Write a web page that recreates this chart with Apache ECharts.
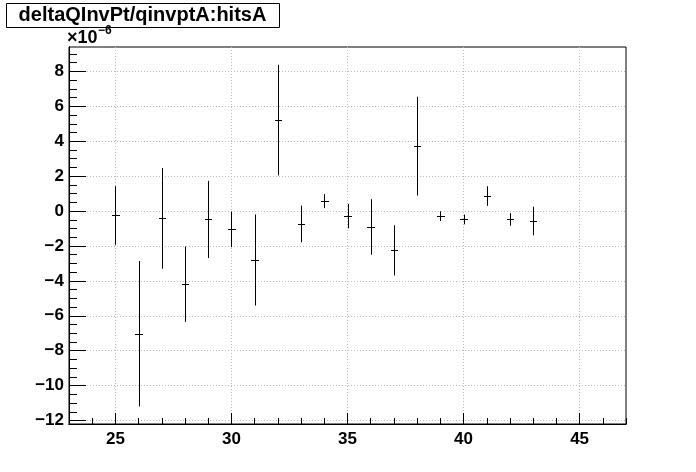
<!DOCTYPE html>
<html>
<head>
<meta charset="utf-8">
<script src="https://cdn.jsdelivr.net/npm/echarts@6/dist/echarts.min.js"></script>
<style>
html,body{margin:0;padding:0;background:#fff;}
#chart{width:696px;height:472px;}
</style>
</head>
<body>
<div id="chart"></div>
<script>
// ---- data (values in units of 1e-6) ----
var hitsA = [25, 26, 27, 28, 29, 30, 31, 32, 33, 34, 35, 36, 37, 38, 39, 40, 41, 42, 43];
var deltaQInvPt = [-0.25, -7.03, -0.42, -4.19, -0.48, -1.05, -2.80, 5.21, -0.74, 0.57, -0.29, -0.91, -2.25, 3.72, -0.29, -0.48, 0.86, -0.48, -0.57];
var errors = [1.68, 4.17, 2.89, 2.16, 2.21, 1.02, 2.61, 3.17, 1.05, 0.40, 0.70, 1.59, 1.44, 2.83, 0.28, 0.28, 0.56, 0.36, 0.82];

var xMajorTicks = [25, 30, 35, 40, 45];
var yMajorTicks = [-12, -10, -8, -6, -4, -2, 0, 2, 4, 6, 8];
var titleText = 'deltaQInvPt/qinvptA:hitsA';

// axis ranges
var X_MIN = 23, X_MAX = 47;
var Y_MIN = -12.2, Y_MAX = 9.4;

// minor ticks
var xMinorTicks = [];
for (var i = 23; i <= 47; i += 1) xMinorTicks.push(i);
var yMinorTicks = [];
for (var j = -24; j <= 18; j += 1) yMinorTicks.push(j / 2);

var HALF_W = 0.14; // half-width of horizontal marker in x units

var FONT = '"Liberation Sans", Arial, Helvetica, sans-serif';

var data = hitsA.map(function (h, k) { return [h, deltaQInvPt[k], errors[k]]; });

function fmtY(v) {
  return v < 0 ? '\u2212' + Math.abs(v) : String(v);
}

var chart = echarts.init(document.getElementById('chart'), null, {renderer: 'canvas'});

var gridDef = {left: 69, right: 70, top: 47, bottom: 48, show: true, borderColor: '#000', borderWidth: 1, backgroundColor: 'transparent', containLabel: false, outerBoundsMode: 'none'};

chart.setOption({
  backgroundColor: '#fff',
  animation: false,
  grid: gridDef,
  xAxis: [
    {
      type: 'value', position: 'bottom', min: X_MIN, max: X_MAX,
      axisLine: {show: true, onZero: false, lineStyle: {color: '#000', width: 1}},
      axisTick: {show: true, inside: true, length: 6, customValues: xMinorTicks, lineStyle: {color: '#000', width: 1}},
      axisLabel: {show: false},
      splitLine: {show: false}
    },
    {
      type: 'value', position: 'bottom', min: X_MIN, max: X_MAX,
      axisLine: {show: true, onZero: false, lineStyle: {color: '#000', width: 1}},
      axisTick: {show: true, inside: true, length: 11, customValues: xMajorTicks, lineStyle: {color: '#000', width: 1}},
      axisLabel: {show: true, customValues: xMajorTicks, margin: 7, color: '#000', fontSize: 17, fontWeight: 'bold', fontFamily: FONT},
      splitLine: {show: true, lineStyle: {color: '#bbbbbb', width: 1, type: [1, 2]}}
    }
  ],
  yAxis: [
    {
      type: 'value', position: 'left', min: Y_MIN, max: Y_MAX,
      axisLine: {show: true, onZero: false, lineStyle: {color: '#000', width: 1}},
      axisTick: {show: true, inside: true, length: 8, customValues: yMinorTicks, lineStyle: {color: '#000', width: 1}},
      axisLabel: {show: false},
      splitLine: {show: false}
    },
    {
      type: 'value', position: 'left', min: Y_MIN, max: Y_MAX,
      axisLine: {show: true, onZero: false, lineStyle: {color: '#000', width: 1}},
      axisTick: {show: true, inside: true, length: 17, customValues: yMajorTicks, lineStyle: {color: '#000', width: 1}},
      axisLabel: {show: true, customValues: yMajorTicks, margin: 5, color: '#000', fontSize: 17, fontWeight: 'bold', fontFamily: FONT, formatter: fmtY},
      splitLine: {show: true, lineStyle: {color: '#bbbbbb', width: 1, type: [1, 2]}}
    }
  ],
  graphic: [
    {
      type: 'rect', left: 6, top: 3, z: 100,
      shape: {width: 273, height: 24},
      style: {fill: '#fff', stroke: '#000', lineWidth: 1}
    },
    {
      type: 'text', x: 142.5, y: 15.5, z: 101,
      style: {text: titleText, fill: '#000', font: 'bold 20px ' + FONT, textAlign: 'center', textVerticalAlign: 'middle'}
    },
    {
      type: 'text', x: 67, y: 47, z: 101,
      style: {text: '\u00d710', fill: '#000', font: 'bold 18px ' + FONT, textAlign: 'left', textVerticalAlign: 'bottom'}
    },
    {
      type: 'text', x: 98, y: 25, z: 101,
      style: {text: '\u22126', fill: '#000', font: 'bold 12px ' + FONT, textAlign: 'left', textVerticalAlign: 'top'}
    }
  ],
  series: [
    {
      type: 'custom',
      xAxisIndex: 1, yAxisIndex: 1,
      data: data,
      clip: true,
      renderItem: function (params, api) {
        var x = api.value(0), y = api.value(1), e = api.value(2);
        var top = api.coord([x, y + e]);
        var bot = api.coord([x, y - e]);
        var ctr = api.coord([x, y]);
        var l = api.coord([x - HALF_W, y]);
        var r = api.coord([x + HALF_W, y]);
        var cx = Math.round(ctr[0]) + 0.5;
        var cy = Math.round(ctr[1]) + 0.5;
        return {
          type: 'group',
          children: [
            {type: 'line', shape: {x1: cx, y1: top[1], x2: cx, y2: bot[1]}, style: {stroke: '#000', lineWidth: 1}},
            {type: 'line', shape: {x1: Math.round(l[0]), y1: cy, x2: Math.round(r[0]) + 1, y2: cy}, style: {stroke: '#000', lineWidth: 1}}
          ]
        };
      }
    }
  ]
});
</script>
</body>
</html>
